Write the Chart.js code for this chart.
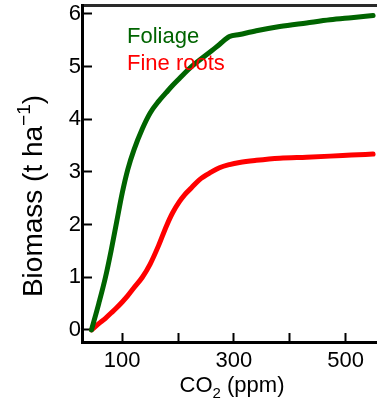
<!DOCTYPE html>
<html>
<head>
<meta charset="utf-8">
<script src="https://cdn.jsdelivr.net/npm/chart.js@4.4.1/dist/chart.umd.min.js"></script>
<style>
  html, body { margin: 0; padding: 0; background: #fff; }
</style>
</head>
<body>
<canvas id="biomass" width="377" height="405"></canvas>
<script>
// CO2 concentration (ppm) and standing biomass (t/ha)
const co2 = [45, 58, 70, 80, 90, 100, 110, 121, 136, 150, 165, 179, 190, 202, 212, 224, 238, 260, 274, 292, 310, 340, 382, 430, 472, 510, 549];
const foliage = [0, 0.5, 1.0, 1.5, 2.05, 2.6, 3.05, 3.42, 3.82, 4.12, 4.34, 4.51, 4.64, 4.77, 4.88, 5.0, 5.12, 5.3, 5.42, 5.57, 5.61, 5.68, 5.76, 5.83, 5.89, 5.93, 5.97];
const fineRoots = [0, 0.12, 0.22, 0.32, 0.42, 0.53, 0.65, 0.8, 1.0, 1.25, 1.6, 1.97, 2.22, 2.43, 2.57, 2.7, 2.85, 3.0, 3.08, 3.14, 3.18, 3.22, 3.26, 3.28, 3.3, 3.32, 3.34];

const xTicks = [100, 200, 300, 400, 500];
const xTickLabels = ['100', '', '300', '', '500'];
const yTicks = [0, 1, 2, 3, 4, 5, 6];
const yTickLabels = ['0', '1', '2', '3', '4', '5', '6'];

const GREEN = '#006400';
const RED = '#ff0000';
const FONT = '"Liberation Sans", Arial, sans-serif';

// draw a row of text pieces (for sub/superscripts) centred on cx
function drawRuns(ctx, runs, cx, y) {
    let total = 0;
    runs.forEach(r => {
        ctx.font = r[1] + 'px ' + FONT;
        r.w = ctx.measureText(r[0]).width;
        total += r.w;
    });
    let x = cx - total / 2;
    runs.forEach(r => {
        ctx.font = r[1] + 'px ' + FONT;
        ctx.fillText(r[0], x, y + r[2]);
        x += r.w;
    });
}

const textLabels = {
    id: 'textLabels',
    afterDraw(chart) {
        const ctx = chart.ctx;
        ctx.save();
        ctx.textAlign = 'left';
        ctx.textBaseline = 'alphabetic';
        ctx.font = '22px ' + FONT;
        ctx.fillStyle = GREEN;
        ctx.fillText('Foliage', 127, 43);
        ctx.fillStyle = RED;
        ctx.fillText('Fine roots', 127, 70);

        ctx.fillStyle = '#000';
        drawRuns(ctx, [['CO', 22, 0], ['2', 15, 6], [' (ppm)', 22, 0]], 232, 392);

        ctx.translate(42, 196);
        ctx.rotate(-Math.PI / 2);
        drawRuns(ctx, [['Biomass (t ha', 28, 0], ['\u22121', 19, -12], [')', 28, 0]], 0, 0);
        ctx.restore();
    }
};

const toPoints = ys => co2.map((x, i) => ({ x: x, y: ys[i] }));

// no extra room for overhanging tick labels
const noPad = s => { s.paddingTop = 0; s.paddingBottom = 0; s.paddingLeft = 0; s.paddingRight = 0; };

new Chart(document.getElementById('biomass').getContext('2d'), {
    type: 'line',
    data: {
        datasets: [{
            label: 'Foliage',
            data: toPoints(foliage),
            borderColor: GREEN,
        }, {
            label: 'Fine roots',
            data: toPoints(fineRoots),
            borderColor: RED,
        }]
    },
    options: {
        responsive: false,
        animation: false,
        layout: { padding: 0 },
        elements: {
            point: { radius: 0 },
            line: { borderWidth: 5, cubicInterpolationMode: 'monotone', borderCapStyle: 'round', fill: false }
        },
        plugins: { legend: { display: false }, tooltip: { enabled: false } },
        scales: {
            x: {
                type: 'linear',
                min: 28,
                max: 556,
                afterFit: s => { s.height = 63; noPad(s); },
                afterBuildTicks: s => { s.ticks = xTicks.map(v => ({ value: v })); },
                border: { color: '#000', width: 3 },
                grid: { drawOnChartArea: false, tickLength: -9, tickWidth: 2, color: '#000' },
                ticks: {
                    padding: 15,
                    color: '#000',
                    font: { family: FONT, size: 22 },
                    callback: (v, i) => xTickLabels[i]
                }
            },
            xTop: {
                type: 'linear',
                position: 'top',
                min: 28,
                max: 556,
                afterFit: s => { s.height = 5; noPad(s); },
                border: { color: '#2a2a2a', width: 3 },
                grid: { display: false },
                ticks: { display: false }
            },
            y: {
                min: -0.23,
                max: 6.17,
                afterFit: s => { s.width = 82; noPad(s); },
                afterBuildTicks: s => { s.ticks = yTicks.map(v => ({ value: v })); },
                border: { color: '#000', width: 3 },
                grid: { drawOnChartArea: false, tickLength: -10, tickWidth: 2, color: '#000' },
                ticks: {
                    padding: 11,
                    color: '#000',
                    font: { family: FONT, size: 22 },
                    callback: (v, i) => yTickLabels[i]
                }
            }
        }
    },
    plugins: [textLabels]
});
</script>
</body>
</html>
